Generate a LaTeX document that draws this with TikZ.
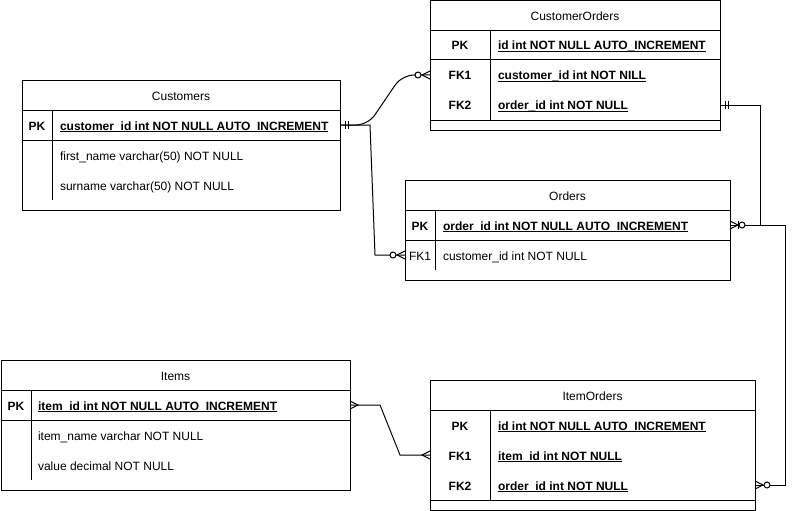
\documentclass[tikz,border=0pt]{standalone}
\usepackage{fontspec}
\setmainfont{Liberation Sans}
\newcommand\myul[1]{\setbox0\hbox{#1}\rlap{\rule[-2pt]{\wd0}{0.7pt}}\box0}
\begin{document}
\begin{tikzpicture}[x=1pt,y=-1pt,line width=1pt,
  font=\fontsize{12}{14}\selectfont,
  tbl/.style={draw,rectangle,inner sep=0pt,outer sep=0pt,anchor=north west},
  tx/.style={inner sep=0pt,outer sep=0pt,text height=10pt,text depth=0pt},
  ttl/.style={tx,anchor=center},
  keytx/.style={tx,anchor=center},
  fld/.style={tx,anchor=west},
  bold/.style={font=\fontsize{12}{14}\selectfont\bfseries},
  mandone/.pic={\draw (5,-4) -- (5,4) (8,-4) -- (8,4);},
  many/.pic={\draw (0,-4) -- (8,0) -- (0,4);},
  zeromany/.pic={\draw (0,-4) -- (8,0) -- (0,4); \draw[fill=white] (12,0) circle[radius=3pt];},
  manybarzero/.pic={\draw (0,-4) -- (8,0) -- (0,4); \draw (8,-4) -- (8,4); \draw[fill=white] (12,0) circle[radius=3pt];}
]
\useasboundingbox (0,0) rectangle (795,511);

% Customers
\node[tbl,minimum width=318pt,minimum height=130pt] (cust) at (22,80) {};
\node[ttl] (custT) at (181,95) {Customers};
\draw (22,110) -- (340,110) (22,140) -- (340,140) (52,110) -- (52,200);
\node[keytx,bold] (custPKk) at (37,125) {PK};
\node[fld,bold] (custPK) at (60,125) {\myul{customer\_id int NOT NULL AUTO\_INCREMENT}};
\node[fld] (custF1) at (60,155) {first\_name varchar(50) NOT NULL};
\node[fld] (custF2) at (60,185) {surname varchar(50) NOT NULL};

% CustomerOrders
\node[tbl,minimum width=290pt,minimum height=129pt] (co) at (430,1) {};
\node[ttl] (coT) at (575,16) {CustomerOrders};
\draw (430,31) -- (720,31) (430,60) -- (720,60) (430,120) -- (720,120) (490,31) -- (490,120);
\node[keytx,bold] (coPKk) at (460,45) {PK};
\node[fld,bold] (coPK) at (498,45) {\myul{id int NOT NULL AUTO\_INCREMENT}};
\node[keytx,bold] (coF1k) at (460,75) {FK1};
\node[fld,bold] (coF1) at (498,75) {\myul{customer\_id int NOT NILL}};
\node[keytx,bold] (coF2k) at (460,105) {FK2};
\node[fld,bold] (coF2) at (498,105) {\myul{order\_id int NOT NULL}};

% Orders
\node[tbl,minimum width=325pt,minimum height=100pt] (ord) at (405,180) {};
\node[ttl] (ordT) at (567.5,195) {Orders};
\draw (405,210) -- (730,210) (405,240) -- (730,240) (435,210) -- (435,270);
\node[keytx,bold] (ordPKk) at (420,225) {PK};
\node[fld,bold] (ordPK) at (443,225) {\myul{order\_id int NOT NULL AUTO\_INCREMENT}};
\node[keytx] (ordF1k) at (420,255) {FK1};
\node[fld] (ordF1) at (443,255) {customer\_id int NOT NULL};

% Items
\node[tbl,minimum width=349pt,minimum height=130pt] (items) at (1,360) {};
\node[ttl] (itT) at (175.5,375) {Items};
\draw (1,390) -- (350,390) (1,420) -- (350,420) (31,390) -- (31,480);
\node[keytx,bold] (itPKk) at (16,405) {PK};
\node[fld,bold] (itPK) at (38,405) {\myul{item\_id int NOT NULL AUTO\_INCREMENT}};
\node[fld] (itF1) at (38,435) {item\_name varchar NOT NULL};
\node[fld] (itF2) at (38,465) {value decimal NOT NULL};

% ItemOrders
\node[tbl,minimum width=325pt,minimum height=130pt] (io) at (430,380) {};
\node[ttl] (ioT) at (592.5,395) {ItemOrders};
\draw (430,410) -- (755,410) (430,500) -- (755,500) (490,410) -- (490,500);
\node[keytx,bold] (ioPKk) at (460,425) {PK};
\node[fld,bold] (ioPK) at (498,425) {\myul{id int NOT NULL AUTO\_INCREMENT}};
\node[keytx,bold] (ioF1k) at (460,455) {FK1};
\node[fld,bold] (ioF1) at (498,455) {\myul{item\_id int NOT NULL}};
\node[keytx,bold] (ioF2k) at (460,485) {FK2};
\node[fld,bold] (ioF2) at (498,485) {\myul{order\_id int NOT NULL}};

% connectors
\draw[rounded corners=12pt] (cust.east |- custPK) -- (368,125) -- (402,75) -- (co.west |- coF1);
\draw (cust.east |- custPK) -- (370,125) -- (375,255) -- (ord.west |- ordF1);
\draw (co.east |- coF2) -- (760,105) -- (760,225) -- (ord.east |- ordPK);
\draw (ord.east |- ordPK) -- (785,225) -- (785,485) -- (io.east |- ioF2);
\draw (items.east |- itPK) -- (380,405) -- (400,455) -- (io.west |- ioF1);

% end markers
\pic at (cust.east |- custPK) {mandone};
\pic at (co.east |- coF2) {mandone};
\pic[xscale=-1] at (co.west |- coF1) {zeromany};
\pic[xscale=-1] at (ord.west |- ordF1) {zeromany};
\pic at (ord.east |- ordPK) {manybarzero};
\pic at (items.east |- itPK) {many};
\pic[xscale=-1] at (io.west |- ioF1) {many};
\pic at (io.east |- ioF2) {zeromany};
\end{tikzpicture}
\end{document}
